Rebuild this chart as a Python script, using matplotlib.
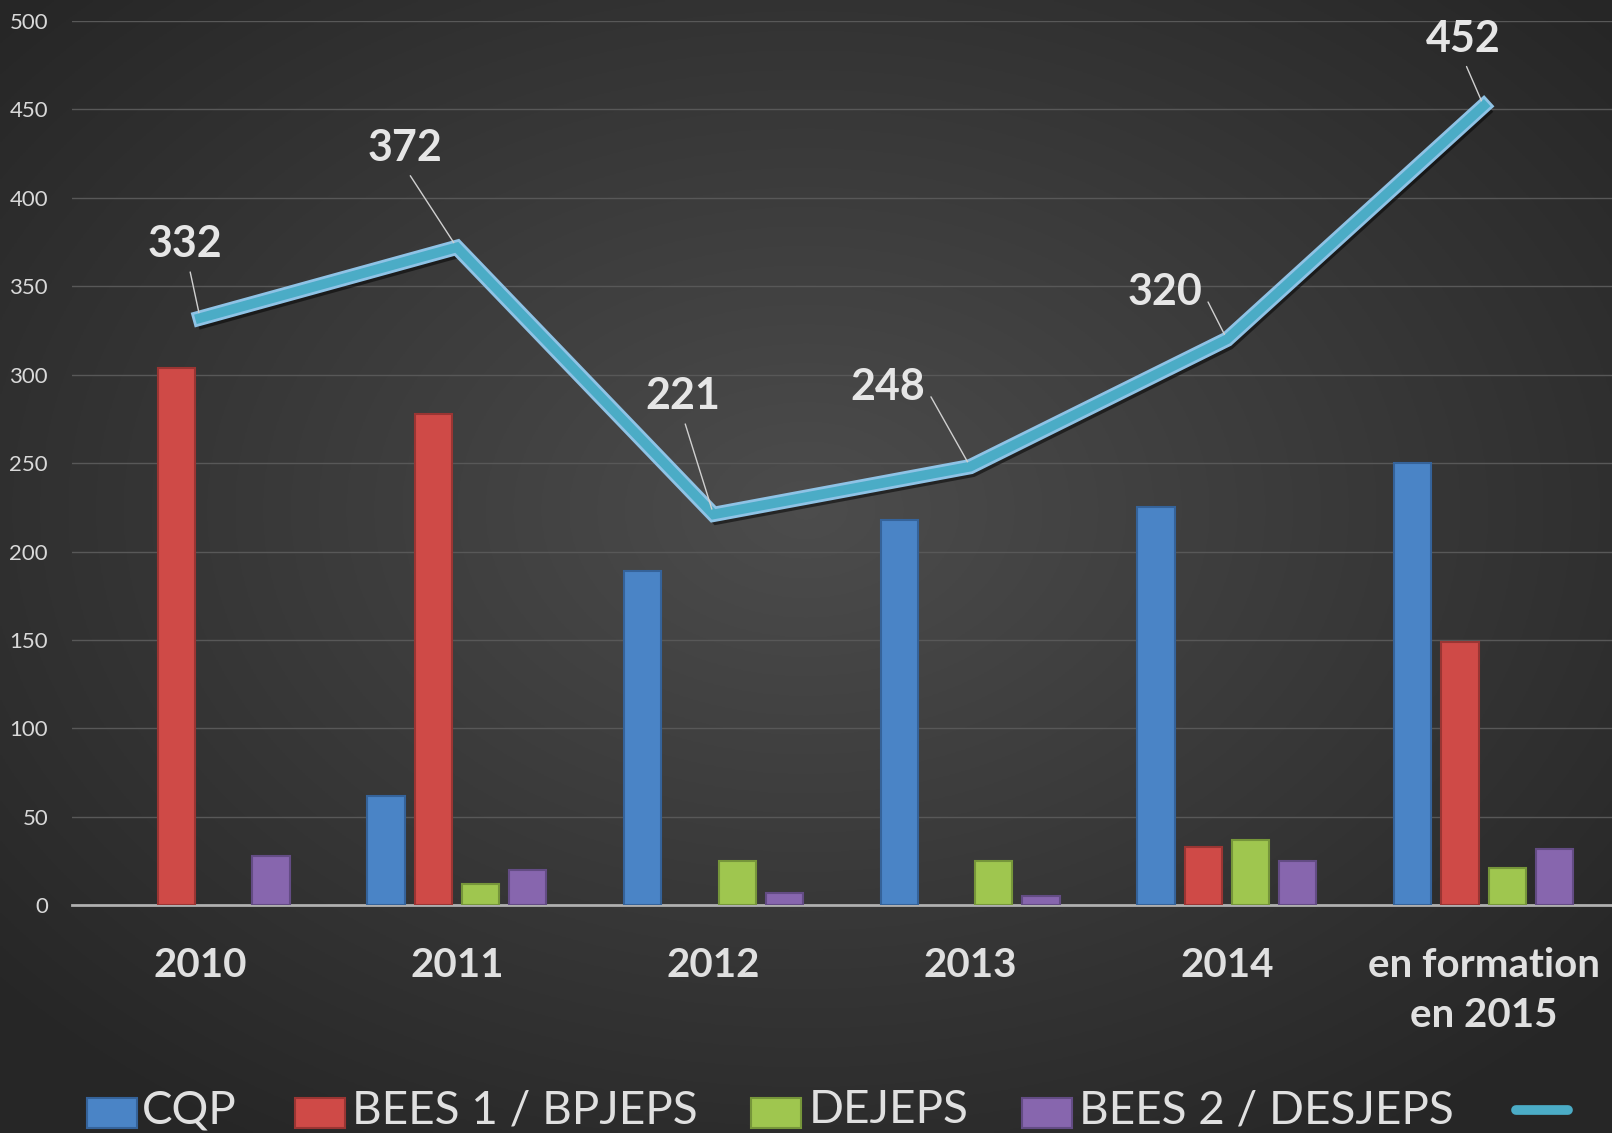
import numpy as np
import matplotlib.pyplot as plt
import matplotlib.patheffects as pe
from matplotlib.patches import Rectangle
from matplotlib.lines import Line2D

categories = ['2010', '2011', '2012', '2013', '2014', 'en formation\nen 2015']
cqp = [0, 62, 189, 218, 225, 250]
bees1 = [304, 278, 0, 0, 33, 149]
dejeps = [0, 12, 25, 25, 37, 21]
bees2 = [28, 20, 7, 5, 25, 32]
total = [332, 372, 221, 248, 320, 452]

series_names = ['CQP', 'BEES 1 / BPJEPS', 'DEJEPS', 'BEES 2 / DESJEPS']
series = [cqp, bees1, dejeps, bees2]
colors = ['#4a84c6', '#cf4a47', '#9fc64f', '#8766ae']
edges = ['#35639a', '#9a3533', '#76963a', '#634c84']
line_color = '#4bacc6'

# text positions for the total labels (category units, value units)
label_pos = [(-0.06, 374), (0.80, 428), (1.88, 288), (2.68, 293), (3.76, 347), (4.92, 490)]
label_rel = [(0.55, 0), (0.5, 0), (0.5, 0), (1.0, 0.5), (1.0, 0.5), (0.5, 0)]

plt.rcParams['font.family'] = ['Lato', 'DejaVu Sans']

fig = plt.figure(figsize=(16.12, 11.33), dpi=100)

# radial gradient background
bg = fig.add_axes([0, 0, 1, 1])
yy, xx = np.mgrid[0:1:400j, 0:1:560j]
r = np.sqrt(((xx - 0.5) / 0.75) ** 2 + ((yy - 0.45) / 0.75) ** 2)
shade = np.clip(0.30 - 0.17 * r, 0.15, 0.30)
bg.imshow(np.dstack([shade] * 3), extent=[0, 1, 0, 1], aspect='auto', origin='upper')
bg.set_xlim(0, 1)
bg.set_ylim(0, 1)
bg.axis('off')

ax = fig.add_axes([0.0445, 0.201, 0.9555, 0.7805])
ax.set_facecolor('none')
x = np.arange(len(categories))
w = 0.145
step = 0.184
for k, vals in enumerate(series):
    v = np.array(vals, dtype=float)
    keep = v > 0
    ax.bar(x[keep] + (k - 1.5) * step, v[keep], width=w, color=colors[k], edgecolor=edges[k],
           linewidth=1.5, zorder=3)

ax.plot(x, total, color=line_color, lw=7, zorder=5, solid_joinstyle='miter',
        path_effects=[pe.SimpleLineShadow(offset=(2, -4), shadow_color='black', alpha=0.5),
                      pe.Stroke(linewidth=11, foreground='#8fc3e6'), pe.Normal()])

for i, v in enumerate(total):
    ax.annotate(str(v), xy=(x[i], v), xytext=label_pos[i], ha='center', va='center',
                fontsize=31, fontweight='bold', color='#e6e6e6', zorder=6,
                arrowprops=dict(arrowstyle='-', color='#d0d0d0', lw=1,
                                relpos=label_rel[i], shrinkA=4, shrinkB=4))

ax.set_xlim(-0.5, len(categories) - 0.5)
ax.set_ylim(0, 500)
ax.set_yticks(np.arange(0, 501, 50))
ax.yaxis.grid(True, color='#585858', lw=1, zorder=0)
ax.set_axisbelow(True)
ax.tick_params(axis='y', length=0, labelsize=16, labelcolor='#d9d9d9', pad=17)
ax.set_xticks(x)
ax.set_xticklabels(categories, fontsize=29, fontweight='bold', color='#e0e0e0', linespacing=1.45)
ax.tick_params(axis='x', length=0, pad=30)
for s in ['top', 'right', 'left']:
    ax.spines[s].set_visible(False)
ax.spines['bottom'].set_color('#b0b0b0')
ax.spines['bottom'].set_linewidth(2)

# legend drawn by hand (figure pixel positions)
W, H = 1612, 1133
patch_x = [87, 295, 751, 1022]
text_x = [142, 352, 809, 1079]
for k, name in enumerate(series_names):
    fig.patches.append(Rectangle((patch_x[k] / W, 1 - 1128 / H), 50 / W, 30 / H,
                                 transform=fig.transFigure, facecolor=colors[k],
                                 edgecolor=edges[k], lw=1.5))
    fig.text(text_x[k] / W, 1 - 1110 / H, name, fontsize=33, color='#e0e0e0',
             ha='left', va='center')
fig.lines.append(Line2D([1516 / W, 1568 / W], [1 - 1110 / H] * 2, transform=fig.transFigure,
                        color=line_color, lw=7, solid_capstyle='round'))

fig.savefig('out.png', dpi=100)
